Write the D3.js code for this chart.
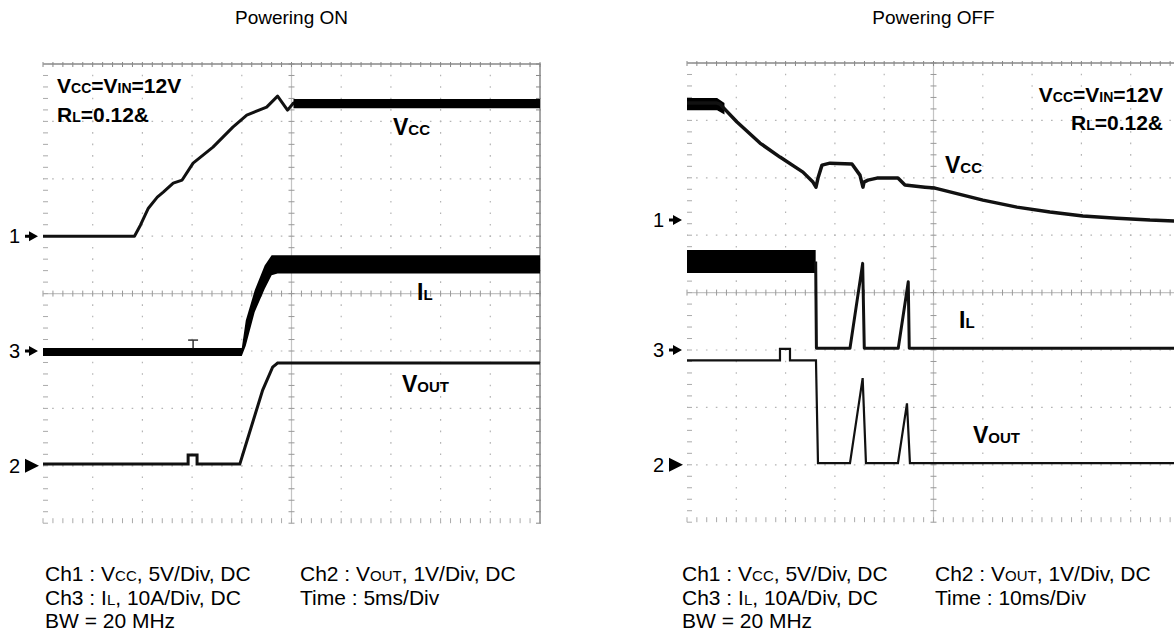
<!DOCTYPE html>
<html lang="en">
<head>
  <meta charset="UTF-8" />
  <title>Powering ON / OFF</title>
  <script src="https://d3js.org/d3.v7.min.js"></script>
  <style>
    body { margin: 0; background: #fff; }
    svg { display: block; font-family: Arial, 'Liberation Sans', sans-serif; }
    .title { font-size: 19px; fill: #000; }
    .foot { fill: #000; }
    .lbl { font-weight: bold; fill: #000; }
    .mark { font-size: 20px; fill: #000; }
  </style>
</head>
<body>
  <svg width="1174" height="635"></svg>
  <script>
    // Powering ON, 5ms/div. [time ms, value]
    const onVcc = [[0, 0], [9.2, 0], [9.8, 0.96], [10.6, 2.44], [11.5, 3.4], [12.1, 3.84], [13.1, 4.62],
      [14.0, 4.89], [15.1, 6.37], [17.1, 7.76], [19.1, 9.5], [20.5, 10.55], [22.5, 11.24], [23.6, 12.2],
      [24.6, 10.98], [25.2, 11.6], [26, 11.55], [50, 11.55]];
    const onVccBand = [[25.2, 11.15, 11.95], [50, 11.15, 11.95]];        // [t, lo, hi]
    const onIlBand = [[0, -0.89, 0.51], [20.0, -0.89, 0.51], [20.4, 0.9, 5.3], [21.3, 6.8, 10.6],
      [22.3, 10.8, 14.9], [23.0, 13.2, 16.7], [23.6, 13.5, 16.7], [50, 13.5, 16.7]];
    const onIlSpike = [15.1, 1.9];
    const onVout = [[0, 0.03], [14.6, 0.03], [14.6, 0.19], [15.5, 0.19], [15.5, 0.03], [19.8, 0.03],
      [20.3, 0.31], [22.1, 1.32], [23.1, 1.72], [23.6, 1.79], [50, 1.79]];

    // Powering OFF, 10ms/div
    const offVcc = [[0, 10.19], [6.08, 10.19], [6.69, 10.1], [10.14, 8.54], [14.8, 6.71], [18.86, 5.49],
      [23.52, 4.18], [25.55, 3.31], [26.16, 2.87], [26.57, 3.66], [27.38, 4.79], [29.0, 4.96], [33.46, 4.88],
      [35.08, 3.92], [35.69, 2.87], [35.9, 3.31], [36.71, 3.48], [38.53, 3.66], [42.79, 3.66], [44.21, 3.05],
      [48.27, 2.87], [50.29, 2.79], [60.03, 1.74], [66.92, 1.13], [73.62, 0.7], [80.31, 0.35], [87.2, 0.17],
      [93.9, 0], [100, -0.09]];
    const offVccBand = [[0, 9.58, 10.63], [6.1, 9.58, 10.63], [7.6, 9.2, 10.2]];
    const offIlBand = [[0, 13.4, 17.4], [26.1, 13.4, 17.4]];
    const offIl = [[26.1, 15.4], [26.25, 0.3], [33.06, 0.3], [35.63, 15.09], [35.96, 0.3], [42.85, 0.3],
      [44.88, 11.88], [45.08, 0.3], [100, 0.3]];
    const offVout = [[0, 1.82], [18.86, 1.82], [18.86, 2.02], [20.89, 2.02], [20.89, 1.82], [26.16, 1.82],
      [26.57, 0.03], [33.06, 0.03], [35.63, 1.51], [36.3, 0.03], [42.79, 0.03], [44.62, 1.07], [45.22, 0.03],
      [100, 0.03]];

    // channel scale per division
    const perDiv = { ch1: 5, ch2: 1, ch3: 10 };

    const svg = d3.select("svg");

    function rich(g, x, y, parts, big, small, cls, anchor) {
      const t = g.append("text").attr("x", x).attr("y", y).attr("class", cls)
        .attr("text-anchor", anchor || "start");
      parts.forEach(([s, sm]) => t.append("tspan").attr("font-size", sm ? small : big).text(s));
      return t;
    }

    function scope(p) {
      const g = svg.append("g");
      const x0 = p.left, y0 = p.top, w = p.width, h = p.height;
      const xd = d3.scaleLinear().domain([0, 10]).range([x0, x0 + w]);
      const yd = d3.scaleLinear().domain([-4, 4]).range([y0 + h, y0]);
      const mx = w / 50, my = h / 40;

      // dotted division lines
      d3.range(1, 10).filter(i => i !== 5).forEach(i => {
        g.append("line").attr("x1", xd(i)).attr("x2", xd(i)).attr("y1", y0).attr("y2", y0 + h)
          .attr("stroke", "#b4b4b4").attr("stroke-width", 1.2)
          .attr("stroke-dasharray", `1.6 ${my - 1.6}`).attr("stroke-dashoffset", 0.8);
      });
      d3.range(-3, 4).filter(j => j !== 0).forEach(j => {
        g.append("line").attr("y1", yd(j)).attr("y2", yd(j)).attr("x1", x0).attr("x2", x0 + w)
          .attr("stroke", "#b4b4b4").attr("stroke-width", 1.2)
          .attr("stroke-dasharray", `1.6 ${mx - 1.6}`).attr("stroke-dashoffset", 0.8);
      });

      // centre axes with minor ticks
      g.append("line").attr("x1", x0).attr("x2", x0 + w).attr("y1", yd(0)).attr("y2", yd(0))
        .attr("stroke", "#c4c4c4").attr("stroke-width", 1.2);
      g.append("line").attr("x1", xd(5)).attr("x2", xd(5)).attr("y1", y0).attr("y2", y0 + h)
        .attr("stroke", "#c4c4c4").attr("stroke-width", 1.2);
      const tx = d3.range(0, 10.01, 0.2), ty = d3.range(-4, 4.01, 0.2);
      g.selectAll(null).data(tx).join("line")
        .attr("x1", d => xd(d)).attr("x2", d => xd(d)).attr("y1", yd(0) - 3).attr("y2", yd(0) + 3)
        .attr("stroke", "#999");
      g.selectAll(null).data(ty).join("line")
        .attr("y1", d => yd(d)).attr("y2", d => yd(d)).attr("x1", xd(5) - 3).attr("x2", xd(5) + 3)
        .attr("stroke", "#999");

      // border: top and right solid, ticks all round
      g.append("line").attr("x1", x0).attr("x2", x0 + w).attr("y1", y0).attr("y2", y0)
        .attr("stroke", "#888").attr("stroke-width", 1.5);
      g.append("line").attr("x1", x0 + w).attr("x2", x0 + w).attr("y1", y0).attr("y2", y0 + h)
        .attr("stroke", "#888").attr("stroke-width", 1.5);
      g.selectAll(null).data(tx).join("line")
        .attr("x1", d => xd(d)).attr("x2", d => xd(d)).attr("y1", y0 - 2).attr("y2", y0 + 3).attr("stroke", "#888");
      g.selectAll(null).data(tx).join("line")
        .attr("x1", d => xd(d)).attr("x2", d => xd(d)).attr("y1", y0 + h - 5).attr("y2", y0 + h).attr("stroke", "#aaa");
      g.selectAll(null).data(ty).join("line")
        .attr("y1", d => yd(d)).attr("y2", d => yd(d)).attr("x1", x0).attr("x2", x0 + 5).attr("stroke", "#aaa");
      g.selectAll(null).data(ty).join("line")
        .attr("y1", d => yd(d)).attr("y2", d => yd(d)).attr("x1", x0 + w - 4).attr("x2", x0 + w + 1).attr("stroke", "#888");

      const x = d3.scaleLinear().domain([0, 10 * p.msPerDiv]).range([x0, x0 + w]);
      const chY = (ref, pd) => d3.scaleLinear().domain([(-4 - ref) * pd, (4 - ref) * pd]).range([y0 + h, y0]);
      const y1 = chY(p.refs.ch1, perDiv.ch1), y2 = chY(p.refs.ch2, perDiv.ch2), y3 = chY(p.refs.ch3, perDiv.ch3);

      // channel reference markers
      [["1", p.refs.ch1, false], ["3", p.refs.ch3, false], ["2", p.refs.ch2, true]].forEach(([n, r, big]) => {
        const yy = yd(r), ax = x0 - 18;
        g.append("text").attr("class", "mark").attr("x", x0 - 23).attr("y", yy + 7)
          .attr("text-anchor", "end").text(n);
        const pts = big
          ? [[ax, yy - 7], [ax + 14, yy], [ax, yy + 7]]
          : [[ax, yy - 1.5], [ax + 4, yy - 1.5], [ax + 4, yy - 5], [ax + 13, yy], [ax + 4, yy + 5], [ax + 4, yy + 1.5], [ax, yy + 1.5]];
        g.append("path").attr("d", d3.line()(pts) + "Z").attr("fill", "#000");
      });

      g.append("text").attr("class", "title").attr("x", xd(5)).attr("y", 24)
        .attr("text-anchor", "middle").text(p.title);

      return { g, x, y1, y2, y3 };
    }

    const band = (x, y) => d3.area().x(d => x(d[0])).y0(d => y(d[1])).y1(d => y(d[2]));
    const trace = (x, y) => d3.line().x(d => x(d[0])).y(d => y(d[1]));

    // ---------- Powering ON ----------
    const on = scope({ title: "Powering ON", left: 43, top: 64, width: 497, height: 459.2, msPerDiv: 5,
      refs: { ch1: 1, ch3: -1, ch2: -3 } });

    on.g.append("path").attr("d", band(on.x, on.y3)(onIlBand)).attr("fill", "#000");
    on.g.append("path")
      .attr("d", trace(on.x, on.y3)([[onIlSpike[0], 0.5], [onIlSpike[0], onIlSpike[1]]]))
      .attr("stroke", "#333").attr("stroke-width", 1.5);
    on.g.append("path")
      .attr("d", trace(on.x, on.y3)([[onIlSpike[0] - 0.5, onIlSpike[1]], [onIlSpike[0] + 0.5, onIlSpike[1]]]))
      .attr("stroke", "#333").attr("stroke-width", 1.5);
    on.g.append("path").attr("d", trace(on.x, on.y1)(onVcc))
      .attr("fill", "none").attr("stroke", "#111").attr("stroke-width", 3).attr("stroke-linejoin", "round");
    on.g.append("path").attr("d", band(on.x, on.y1)(onVccBand)).attr("fill", "#000");
    on.g.append("path").attr("d", trace(on.x, on.y2)(onVout))
      .attr("fill", "none").attr("stroke", "#111").attr("stroke-width", 3);

    rich(on.g, 57, 93, [["V", 0], ["CC", 1], ["=V", 0], ["IN", 1], ["=12V", 0]], 21, 14, "lbl");
    rich(on.g, 57, 122, [["R", 0], ["L", 1], ["=0.12&", 0]], 21, 14, "lbl");
    rich(on.g, 393, 135, [["V", 0], ["CC", 1]], 23, 15, "lbl");
    rich(on.g, 417, 300, [["I", 0], ["L", 1]], 23, 15, "lbl");
    rich(on.g, 402, 392, [["V", 0], ["OUT", 1]], 23, 15, "lbl");

    // ---------- Powering OFF ----------
    const off = scope({ title: "Powering OFF", left: 687, top: 63, width: 493, height: 459.2, msPerDiv: 10,
      refs: { ch1: 1.263, ch3: -1, ch2: -3 } });

    off.g.append("path").attr("d", band(off.x, off.y3)(offIlBand)).attr("fill", "#000");
    off.g.append("path").attr("d", trace(off.x, off.y3)(offIl))
      .attr("fill", "none").attr("stroke", "#111").attr("stroke-width", 3).attr("stroke-linejoin", "round");
    off.g.append("path").attr("d", band(off.x, off.y1)(offVccBand)).attr("fill", "#000");
    off.g.append("path").attr("d", trace(off.x, off.y1)(offVcc))
      .attr("fill", "none").attr("stroke", "#111").attr("stroke-width", 3.5).attr("stroke-linejoin", "round");
    off.g.append("path").attr("d", trace(off.x, off.y2)(offVout))
      .attr("fill", "none").attr("stroke", "#111").attr("stroke-width", 2.2);

    rich(off.g, 1163, 102, [["V", 0], ["CC", 1], ["=V", 0], ["IN", 1], ["=12V", 0]], 21, 14, "lbl", "end");
    rich(off.g, 1163, 130, [["R", 0], ["L", 1], ["=0.12&", 0]], 21, 14, "lbl", "end");
    rich(off.g, 945, 173, [["V", 0], ["CC", 1]], 23, 15, "lbl");
    rich(off.g, 959, 328, [["I", 0], ["L", 1]], 23, 15, "lbl");
    rich(off.g, 973, 443, [["V", 0], ["OUT", 1]], 23, 15, "lbl");

    // ---------- footers ----------
    const footCol1 = [
      [["Ch1 : V", 0], ["CC", 1], [", 5V/Div, DC", 0]],
      [["Ch3 : I", 0], ["L", 1], [", 10A/Div, DC", 0]],
      [["BW = 20 MHz", 0]]
    ];
    const footCol2On = [[["Ch2 : V", 0], ["OUT", 1], [", 1V/Div, DC", 0]], [["Time : 5ms/Div", 0]]];
    const footCol2Off = [[["Ch2 : V", 0], ["OUT", 1], [", 1V/Div, DC", 0]], [["Time : 10ms/Div", 0]]];

    [[45, footCol1], [300, footCol2On], [682, footCol1], [935, footCol2Off]].forEach(([fx, lines]) => {
      lines.forEach((parts, i) => rich(svg, fx, 581 + i * 23.5, parts, 21, 15, "foot"));
    });
  </script>
</body>
</html>
